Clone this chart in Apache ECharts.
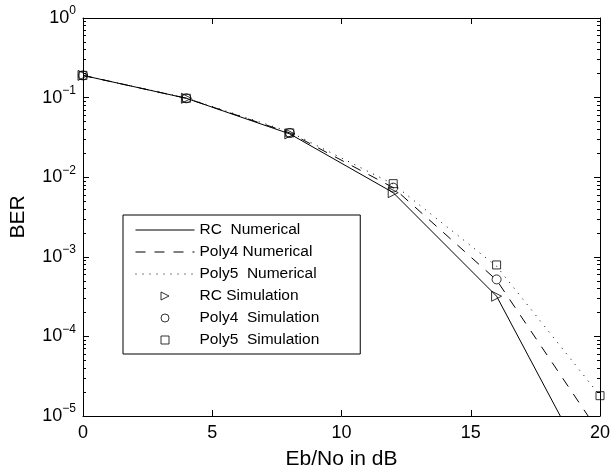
<!DOCTYPE html>
<html>
<head>
<meta charset="utf-8">
<script src="https://cdn.jsdelivr.net/npm/echarts@6/dist/echarts.min.js"></script>
<style>
  html, body { margin: 0; padding: 0; background: #fff; }
  #chart { width: 616px; height: 475px; }
</style>
</head>
<body>
<div id="chart"></div>
<script>
  // Eb/No values (dB)
  const ebno = [0, 4, 8, 12, 16, 20]

  // numerical curves
  const rcNum = [0.19, 0.098, 0.035, 0.0064, 3.2e-4, 1.15e-6]
  const poly4Num = [0.19, 0.098, 0.036, 0.0074, 5.1e-4, 6e-6]
  const poly5Num = [0.19, 0.099, 0.037, 0.0082, 7.6e-4, 1.8e-5]

  // simulation points
  const rcSim = [0.19, 0.098, 0.035, 0.0064, 3.2e-4]
  const poly4Sim = [0.19, 0.098, 0.036, 0.0074, 5.2e-4]
  const poly5Sim = [0.19, 0.098, 0.036, 0.0083, 7.9e-4, 1.8e-5]

  const legendNames = ['RC  Numerical', 'Poly4 Numerical', 'Poly5  Numerical',
    'RC Simulation', 'Poly4  Simulation', 'Poly5  Simulation']

  const yMajor = [1e-5, 1e-4, 1e-3, 1e-2, 1e-1, 1]
  const yMinor = []
  for (let k = -5; k < 0; k++) {
    for (let m = 2; m <= 9; m++) yMinor.push(m * Math.pow(10, k))
  }

  const FONT = '"Liberation Sans", Arial, Helvetica, sans-serif'
  const TRI = 'path://M0,0L10,5L0,10Z'
  const SQR = 'path://M0,0L10,0L10,10L0,10Z'
  const DASH = [10, 9]
  const DOT = [1, 6]
  const pairs = (ys) => ys.map((y, i) => [ebno[i], y])

  const chart = echarts.init(document.getElementById('chart'))

  const hollow = { color: 'rgba(0,0,0,0)', borderColor: '#000', borderWidth: 1 }
  const noMark = { color: 'rgba(0,0,0,0)', borderWidth: 0, borderColor: 'rgba(0,0,0,0)' }

  const logAxis = (extra) => Object.assign({
    type: 'log',
    logBase: 10,
    min: 1e-5,
    max: 1,
    axisLine: { show: true, lineStyle: { color: '#000', width: 1 } },
    splitLine: { show: false },
    axisLabel: { show: false },
    axisTick: { show: true, inside: true, length: 6, lineStyle: { color: '#000' } }
  }, extra)

  const option = {
    backgroundColor: '#fff',
    animation: false,
    grid: { left: 81, right: 16, top: 18, bottom: 58 },
    legend: {
      left: 123,
      top: 215,
      orient: 'vertical',
      data: [
        { name: legendNames[0], itemStyle: noMark, lineStyle: { color: '#000', width: 1, type: 'solid' } },
        { name: legendNames[1], itemStyle: noMark, lineStyle: { color: '#000', width: 1, type: DASH } },
        { name: legendNames[2], itemStyle: noMark, lineStyle: { color: '#000', width: 1, type: DOT } },
        { name: legendNames[3], icon: TRI, itemStyle: hollow },
        { name: legendNames[4], icon: 'circle', itemStyle: hollow },
        { name: legendNames[5], icon: SQR, itemStyle: hollow }
      ],
      backgroundColor: '#fff',
      borderColor: '#000',
      borderWidth: 1,
      borderRadius: 0,
      padding: [7, 41, 6, 12],
      itemWidth: 59,
      itemHeight: 8,
      itemGap: 6,
      symbolKeepAspect: true,
      textStyle: { fontFamily: FONT, fontSize: 15.5, color: '#000', lineHeight: 15 }
    },
    xAxis: [
      {
        type: 'value',
        min: 0,
        max: 20,
        interval: 5,
        name: 'Eb/No in dB',
        nameLocation: 'middle',
        nameGap: 33,
        nameTextStyle: { fontFamily: FONT, fontSize: 21, color: '#000' },
        axisLine: { show: true, lineStyle: { color: '#000', width: 1 } },
        axisTick: { show: true, inside: true, length: 6, lineStyle: { color: '#000' } },
        axisLabel: { fontFamily: FONT, fontSize: 18, color: '#000', margin: 8 },
        splitLine: { show: false }
      },
      {
        type: 'value',
        position: 'top',
        min: 0,
        max: 20,
        interval: 5,
        axisLine: { show: true, lineStyle: { color: '#000', width: 1 } },
        axisTick: { show: true, inside: true, length: 6, lineStyle: { color: '#000' } },
        axisLabel: { show: false },
        splitLine: { show: false }
      }
    ],
    yAxis: [
      logAxis({
        position: 'left',
        name: 'BER',
        nameLocation: 'middle',
        nameGap: 54,
        nameTextStyle: { fontFamily: FONT, fontSize: 21, color: '#000' },
        axisLabel: {
          show: true,
          margin: 7,
          formatter: (v) => {
            const e = Math.round(Math.log10(v))
            return '{b|10}{e|' + String(e).replace('-', '\u2212') + '}'
          },
          rich: {
            b: { fontFamily: FONT, fontSize: 18, color: '#000' },
            e: { fontFamily: FONT, fontSize: 12, color: '#000', padding: [0, 0, 14, 0] }
          }
        }
      }),
      logAxis({
        position: 'left',
        axisLine: { show: false },
        axisTick: { show: true, inside: true, length: 3, lineStyle: { color: '#000' }, customValues: yMinor }
      }),
      logAxis({
        position: 'right',
        axisTick: { show: true, inside: true, length: 6, lineStyle: { color: '#000' }, customValues: yMajor }
      }),
      logAxis({
        position: 'right',
        axisLine: { show: false },
        axisTick: { show: true, inside: true, length: 3, lineStyle: { color: '#000' }, customValues: yMinor }
      })
    ],
    series: [
      {
        name: legendNames[0],
        type: 'line',
        symbol: 'none',
        lineStyle: { color: '#000', width: 1, type: 'solid' },
        itemStyle: { color: '#000' },
        data: pairs(rcNum)
      },
      {
        name: legendNames[1],
        type: 'line',
        symbol: 'none',
        lineStyle: { color: '#000', width: 1, type: DASH },
        itemStyle: { color: '#000' },
        data: pairs(poly4Num)
      },
      {
        name: legendNames[2],
        type: 'line',
        symbol: 'none',
        lineStyle: { color: '#000', width: 1, type: DOT },
        itemStyle: { color: '#000' },
        data: pairs(poly5Num)
      },
      {
        name: legendNames[3],
        type: 'scatter',
        symbol: TRI,
        symbolSize: 10,
        itemStyle: hollow,
        data: pairs(rcSim)
      },
      {
        name: legendNames[4],
        type: 'scatter',
        symbol: 'circle',
        symbolSize: 9,
        itemStyle: hollow,
        data: pairs(poly4Sim)
      },
      {
        name: legendNames[5],
        type: 'scatter',
        symbol: SQR,
        symbolSize: 8,
        itemStyle: hollow,
        data: pairs(poly5Sim)
      }
    ]
  }

  chart.setOption(option)
</script>
</body>
</html>
